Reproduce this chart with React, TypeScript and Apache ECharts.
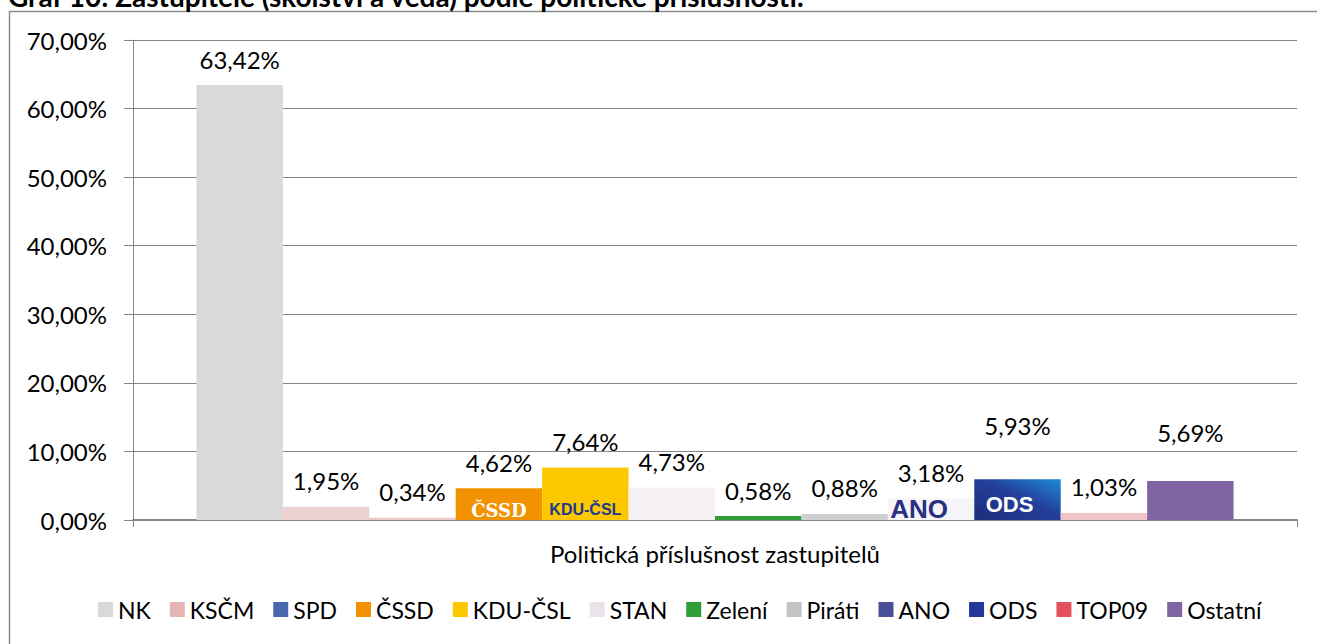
import React, { useEffect, useRef } from "react";
import * as echarts from "echarts";

const titleText = "Graf 10: Zastupitelé (školství a věda) podle politické příslušnosti.";
const categories = ["Politická příslušnost zastupitelů"];
const parties = ["NK", "KSČM", "SPD", "ČSSD", "KDU-ČSL", "STAN", "Zelení", "Piráti", "ANO", "ODS", "TOP09", "Ostatní"];
const shares = [63.42, 1.95, 0.34, 4.62, 7.64, 4.73, 0.58, 0.88, 3.18, 5.93, 1.03, 5.69];
const yMin = 0;
const yMax = 70;
const yStep = 10;

const FONT = "Lato";

const fmt = (v: number) => v.toFixed(2).replace(".", ",") + "%";

export default function App() {
  const ref = useRef<HTMLDivElement>(null);
  useEffect(() => {
    if (!ref.current) return;
    const chart = echarts.init(ref.current, undefined, { renderer: "svg" });

    const barColors: Record<string, any> = {
      NK: "#d9d9d9",
      "KSČM": "#efd3d3",
      SPD: "#e8caca",
      "ČSSD": "#f39200",
      "KDU-ČSL": "#fdc800",
      STAN: "#f7f1f6",
      "Zelení": "#2f9e38",
      "Piráti": "#cfcfcf",
      ANO: "#f5f5f9",
      ODS: new echarts.graphic.LinearGradient(0, 1, 1, 0, [
        { offset: 0, color: "#1f2c7a" },
        { offset: 0.55, color: "#233f9a" },
        { offset: 1, color: "#1f8ad6" },
      ]),
      TOP09: "#efc3c8",
      "Ostatní": "#8064a2",
    };
    const legendColors: Record<string, string> = {
      NK: "#d9d9d9",
      "KSČM": "#e4b5b5",
      SPD: "#4a68b0",
      "ČSSD": "#f39200",
      "KDU-ČSL": "#fdc800",
      STAN: "#ece2ea",
      "Zelení": "#2f9e38",
      "Piráti": "#c4c4c4",
      ANO: "#4a4f96",
      ODS: "#23399a",
      TOP09: "#e2505a",
      "Ostatní": "#8064a2",
    };
    const logoLabels: Record<string, any> = {
      "ČSSD": { color: "#ffffff", fontFamily: "DejaVu Serif", fontWeight: "bold", fontSize: 18, distance: 1 },
      "KDU-ČSL": { color: "#1e3a8a", fontFamily: "Liberation Sans", fontWeight: "bold", fontSize: 16, distance: 3 },
      ANO: { color: "#2a2f80", fontFamily: "Liberation Sans", fontWeight: "bold", fontSize: 26, distance: 0, offset: [-12, 2] },
      ODS: { color: "#ffffff", fontFamily: "Liberation Sans", fontWeight: "bold", fontSize: 22, distance: 5, offset: [-8, 0] },
    };
    const extraDistance: Record<string, number> = { ODS: 42, "Ostatní": 36 };

    const common = {
      type: "bar",
      barGap: "0%",
      barCategoryGap: "10.9%",
    };

    const series: any[] = [];
    parties.forEach((p, i) => {
      const stack = "s" + i;
      if (logoLabels[p]) {
        const l = logoLabels[p];
        series.push({
          ...common,
          name: p + " logo",
          stack,
          data: [0],
          itemStyle: { color: "rgba(0,0,0,0)" },
          label: {
            show: true,
            position: "insideBottom",
            distance: l.distance,
            offset: l.offset || [0, 0],
            formatter: p,
            color: l.color,
            fontFamily: l.fontFamily,
            fontWeight: l.fontWeight,
            fontSize: l.fontSize,
          },
          z: 3,
        });
      }
      series.push({
        ...common,
        name: p,
        stack,
        data: [
          {
            value: shares[i],
            label: { distance: extraDistance[p] !== undefined ? extraDistance[p] : 14 },
          },
        ],
        itemStyle: { color: barColors[p] },
        label: {
          show: true,
          position: "top",
          formatter: (prm: any) => fmt(prm.value),
          color: "#000",
          fontFamily: FONT,
          fontSize: 24,
        },
        z: 2,
      });
    });

    chart.setOption({
      animation: false,
      backgroundColor: "#ffffff",
      textStyle: { fontFamily: FONT },
      graphic: [
        {
          type: "rect",
          shape: { x: 9.5, y: 11.5, width: 1400, height: 800 },
          style: { fill: "none", stroke: "#8a8a8a", lineWidth: 1.5 },
          silent: true,
          z: -1,
        },
        {
          type: "text",
          x: 8,
          y: -18,
          style: {
            text: titleText,
            font: "bold 28px Lato",
            fill: "#000",
          },
          silent: true,
        },
      ],
      grid: { left: 133, right: 20, top: 40, bottom: 124, containLabel: false },
      legend: {
        left: 93,
        top: 593,
        icon: "rect",
        itemWidth: 15,
        itemHeight: 15,
        itemGap: 19,
        textStyle: { fontFamily: FONT, fontSize: 23, color: "#000" },
        data: parties.map((p) => ({ name: p, itemStyle: { color: legendColors[p] } })),
      },
      xAxis: {
        type: "category",
        data: categories,
        axisLine: { show: true, lineStyle: { color: "#868686", width: 2 } },
        axisTick: { show: true, length: 7, lineStyle: { color: "#868686" } },
        axisLabel: { margin: 21, fontFamily: FONT, fontSize: 24, color: "#000" },
      },
      yAxis: {
        type: "value",
        min: yMin,
        max: yMax,
        interval: yStep,
        axisLine: { show: true, lineStyle: { color: "#868686" } },
        axisTick: { show: true, length: 9, lineStyle: { color: "#868686" } },
        splitLine: { show: true, lineStyle: { color: "#868686", width: 1 } },
        axisLabel: {
          margin: 26,
          fontFamily: FONT,
          fontSize: 24,
          color: "#000",
          formatter: (v: number) => fmt(v),
        },
      },
      series,
    });
    return () => chart.dispose();
  }, []);
  return (
    <div
      ref={ref}
      style={{ position: "absolute", left: 0, top: 0, width: 1317, height: 644, background: "#fff" }}
    />
  );
}
